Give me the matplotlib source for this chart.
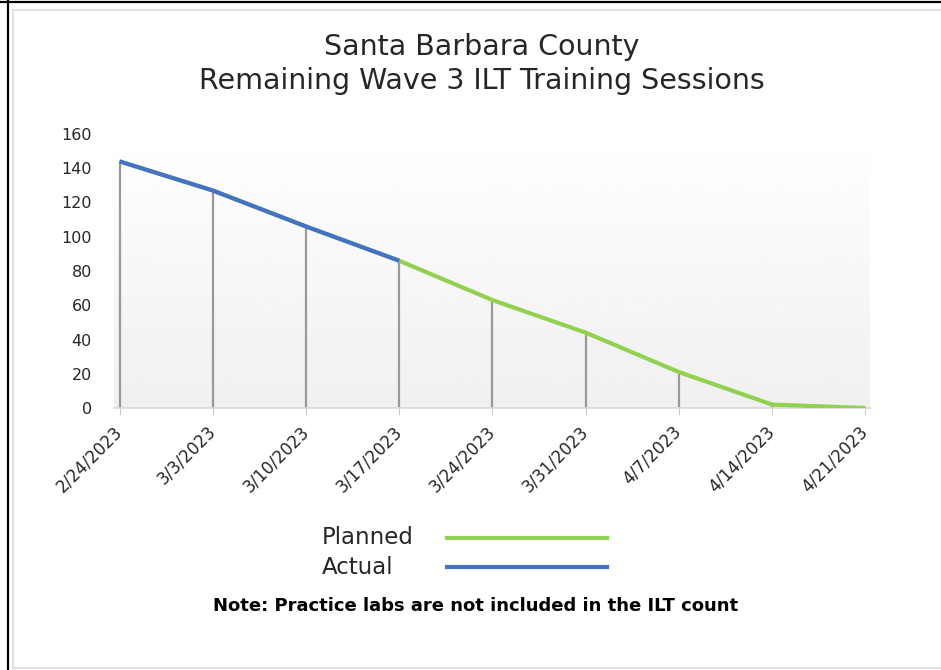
import numpy as np
import matplotlib
matplotlib.use("Agg")
import matplotlib.pyplot as plt
from matplotlib.lines import Line2D

# data
dates = ["2/24/2023", "3/3/2023", "3/10/2023", "3/17/2023", "3/24/2023",
         "3/31/2023", "4/7/2023", "4/14/2023", "4/21/2023"]
planned = [144, 127, 106, 86, 63, 44, 21, 2, 0]
actual = [144, 127, 106, 86]
y_ticks = [0, 20, 40, 60, 80, 100, 120, 140, 160]

GREEN = "#92D050"
BLUE = "#4472C4"
FONT = "DejaVu Sans"

W, H = 941, 670
fig = plt.figure(figsize=(W / 100, H / 100), dpi=100)


def fx(px):
    return px / W


def fy(py):
    return 1 - py / H


# frame around the chart
fig.add_artist(Line2D([0, 1], [fy(1.5), fy(1.5)], color="black", lw=1.6))
fig.add_artist(Line2D([fx(7.5), fx(7.5)], [0, 1], color="black", lw=1.6))
fig.add_artist(Line2D([fx(12.5), 1], [fy(9.5), fy(9.5)], color="#e0e0e0", lw=1.5))
fig.add_artist(Line2D([fx(12.5), fx(12.5)], [fy(9.5), fy(667.5)], color="#e0e0e0", lw=1.5))
fig.add_artist(Line2D([fx(12.5), 1], [fy(667.5), fy(667.5)], color="#e0e0e0", lw=1.5))

ax = fig.add_axes([fx(114), fy(408), fx(870) - fx(114), fy(134) - fy(408)])
x = np.arange(len(dates))

# soft vertical gradient in the plot area
grad = np.linspace(0.94, 1.0, 256).reshape(-1, 1)
ax.imshow(grad, cmap="gray", vmin=0, vmax=1, aspect="auto", origin="lower",
          extent=[-0.06, 8.05, 0, 160], zorder=0)

# drop lines
ax.vlines(x, 0, planned, color="#999999", lw=1.6, zorder=2)
ax.plot(x, planned, color=GREEN, lw=3, zorder=3, solid_capstyle="butt")
ax.plot(x[:len(actual)], actual, color=BLUE, lw=3, zorder=4, solid_capstyle="butt")

ax.set_xlim(-0.06, 8.05)
ax.set_ylim(0, 160)
ax.set_yticks(y_ticks)
ax.set_yticklabels([str(v) for v in y_ticks], fontsize=11.5, family=FONT, color="#262626")
ax.tick_params(axis="y", length=0, pad=16)
ax.set_xticks(x)
ax.set_xticklabels(dates, rotation=45, ha="right", va="center", rotation_mode="anchor",
                   fontsize=12, family=FONT, color="#262626")
ax.tick_params(axis="x", length=5, color="#cccccc", pad=10)
for s in ["top", "right", "left"]:
    ax.spines[s].set_visible(False)
ax.spines["bottom"].set_color("#d9d9d9")
ax.spines["bottom"].set_linewidth(1.2)

# title
fig.text(fx(482), fy(64), "Santa Barbara County\nRemaining Wave 3 ILT Training Sessions",
         ha="center", va="center", fontsize=20.5, family=FONT, color="#262626",
         linespacing=1.3)

# legend drawn by hand
for label, col, py in [("Planned", GREEN, 538), ("Actual", BLUE, 567)]:
    fig.text(fx(322), fy(py), label, ha="left", va="center", fontsize=16.5,
             family=FONT, color="#262626")
    fig.add_artist(Line2D([fx(447), fx(607)], [fy(py), fy(py)], color=col, lw=3))

fig.text(fx(476), fy(606), "Note: Practice labs are not included in the ILT count",
         ha="center", va="center", fontsize=13, family=FONT, weight="bold", color="black")

fig.savefig("out.png", dpi=100)
